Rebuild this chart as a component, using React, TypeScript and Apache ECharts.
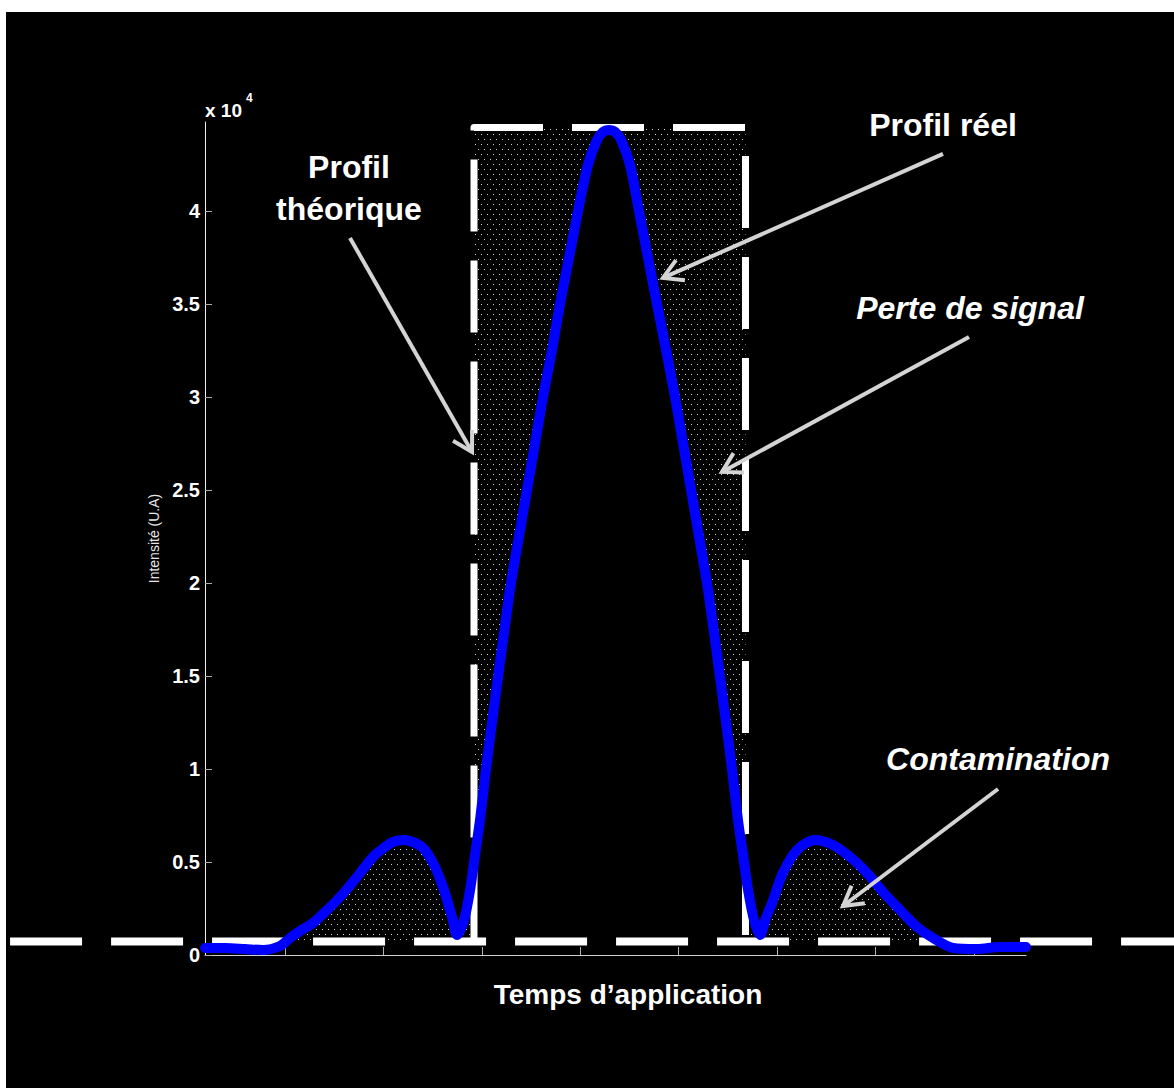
import { useEffect, useRef } from 'react';
import * as echarts from 'echarts';

// ---- data (x in tick units, y in raw intensity) ----
const curveX = [-0.813, -0.61, -0.406, -0.224, -0.051, 0.051, 0.152, 0.284, 0.427, 0.559, 0.731, 0.894, 1.016, 1.097, 1.199, 1.3, 1.402, 1.504, 1.605, 1.697, 1.747, 1.819, 1.88, 1.93, 1.981, 2.042, 2.133, 2.215, 2.296, 2.377, 2.459, 2.54, 2.621, 2.713, 2.794, 2.885, 2.977, 3.078, 3.17, 3.231, 3.292, 3.353, 3.414, 3.505, 3.596, 3.688, 3.779, 3.871, 3.962, 4.044, 4.125, 4.206, 4.287, 4.369, 4.45, 4.541, 4.602, 4.653, 4.704, 4.765, 4.826, 4.887, 4.948, 5.059, 5.202, 5.385, 5.567, 5.74, 5.913, 6.075, 6.248, 6.421, 6.583, 6.787, 7.03, 7.264, 7.528];
const curveY = [376, 376, 323, 269, 484, 914, 1290, 1720, 2419, 3118, 4194, 5269, 5806, 6075, 6183, 6075, 5753, 4946, 3656, 2043, 1075, 1882, 3495, 5376, 7258, 10000, 13710, 16935, 20000, 22500, 25000, 27500, 30000, 32527, 35000, 37473, 40000, 42473, 43817, 44247, 44355, 44247, 43817, 42473, 40000, 37473, 35000, 32527, 30000, 27500, 25000, 22500, 20000, 16935, 13710, 10000, 7258, 5376, 3495, 1882, 1075, 1989, 2796, 4409, 5645, 6183, 5914, 5269, 4409, 3387, 2419, 1505, 914, 376, 323, 430, 430];

const baselineValue = 730;
const baselineX = [-2.834, 9.032];
const rectLeft = 1.92;
const rectRight = 4.678;
const rectTop = 44490;

const xMin = -0.813;
const xMax = 7.528;
const yMax = 44780;
const xTicks = [0, 1, 2, 3, 4, 5, 6, 7];
const yTicks = [0, 5000, 10000, 15000, 20000, 25000, 30000, 35000, 40000];

// arrows: [x1, y1, x2(tip), y2(tip)]
const arrows = [
  [0.66, 38548, 1.9, 27043],
  [6.685, 43065, 3.84, 36398],
  [6.949, 33226, 4.44, 25968],
  [7.244, 8925, 5.669, 2634],
];

const FONT = '"Liberation Sans", Arial, sans-serif';

function interp(x: number): number {
  for (let i = 0; i < curveX.length - 1; i++) {
    if (x >= curveX[i] && x <= curveX[i + 1]) {
      const t = (x - curveX[i]) / (curveX[i + 1] - curveX[i]);
      return curveY[i] + t * (curveY[i + 1] - curveY[i]);
    }
  }
  return curveY[curveY.length - 1];
}

function buildRegions(): number[][][] {
  const b = baselineValue;
  const left: number[][] = [];
  for (let i = 0; i < curveX.length; i++) {
    if (curveX[i] < rectLeft) left.push([curveX[i], Math.max(curveY[i], b)]);
  }
  left.push([rectLeft, Math.max(interp(rectLeft), b)]);
  left.push([rectLeft, b]);
  left.push([curveX[0], b]);

  const right: number[][] = [[rectRight, b], [rectRight, Math.max(interp(rectRight), b)]];
  for (let i = 0; i < curveX.length; i++) {
    if (curveX[i] > rectRight) right.push([curveX[i], Math.max(curveY[i], b)]);
  }
  right.push([curveX[curveX.length - 1], b]);

  const mid: number[][] = [[rectLeft, rectTop], [rectRight, rectTop], [rectRight, interp(rectRight)]];
  for (let i = curveX.length - 1; i >= 0; i--) {
    if (curveX[i] > rectLeft && curveX[i] < rectRight) mid.push([curveX[i], curveY[i]]);
  }
  mid.push([rectLeft, interp(rectLeft)]);
  return [left, mid, right];
}

export default function App() {
  const ref = useRef<HTMLDivElement>(null);

  useEffect(() => {
    if (!ref.current) return;
    const chart = echarts.init(ref.current, undefined, { renderer: 'svg' });

    const tile = document.createElement('canvas');
    tile.width = 6;
    tile.height = 10;
    const ctx = tile.getContext('2d');
    if (ctx) {
      ctx.fillStyle = '#000';
      ctx.fillRect(0, 0, 6, 10);
      ctx.fillStyle = '#d0d0d0';
      ctx.fillRect(1, 2, 1, 1);
      ctx.fillRect(4, 7, 1, 1);
    }
    const pattern: any = { image: tile, repeat: 'repeat', imageWidth: 6, imageHeight: 10 };
    const regions = buildRegions();

    const option: any = {
      animation: false,
      backgroundColor: '#000',
      grid: { left: 199, top: 110, right: 148, bottom: 133, containLabel: false, outerBoundsMode: 'none' },
      xAxis: {
        type: 'value',
        min: xMin,
        max: xMax,
        axisLine: { show: true, onZero: false, lineStyle: { color: '#cfcfcf', width: 1 } },
        axisTick: { show: true, inside: true, length: 8, customValues: xTicks, lineStyle: { color: '#b0b0b0', width: 1 } },
        axisLabel: { show: false },
        splitLine: { show: false },
      },
      yAxis: {
        type: 'value',
        min: 0,
        max: yMax,
        name: 'Intensité (U.A)',
        nameLocation: 'middle',
        nameRotate: 90,
        nameGap: 41,
        nameTextStyle: { color: '#e6e6e6', fontSize: 14, fontFamily: FONT },
        axisLine: { show: true, onZero: false, lineStyle: { color: '#f0f0f0', width: 1 } },
        axisTick: { show: true, inside: true, length: 7, customValues: yTicks, lineStyle: { color: '#b0b0b0', width: 1 } },
        axisLabel: {
          show: true,
          customValues: yTicks,
          margin: 5,
          color: '#ffffff',
          fontSize: 20,
          fontWeight: 'bold',
          fontFamily: FONT,
          formatter: (v: number) => String(v / 10000),
        },
        splitLine: { show: false },
      },
      graphic: [
        { type: 'text', x: 199, y: 98, style: { text: 'x 10', fill: '#fff', font: `bold 19px ${FONT}`, align: 'left', verticalAlign: 'middle' } },
        { type: 'text', x: 240, y: 86, style: { text: '4', fill: '#fff', font: `bold 12px ${FONT}`, align: 'left', verticalAlign: 'middle' } },
        { type: 'text', x: 343, y: 176, style: { text: 'Profil\nthéorique', fill: '#fff', font: `bold 32px ${FONT}`, lineHeight: 42, align: 'center', verticalAlign: 'middle' } },
        { type: 'text', x: 937, y: 113, style: { text: 'Profil réel', fill: '#fff', font: `bold 32px ${FONT}`, align: 'center', verticalAlign: 'middle' } },
        { type: 'text', x: 964, y: 296, style: { text: 'Perte de signal', fill: '#fff', font: `italic bold 32px ${FONT}`, align: 'center', verticalAlign: 'middle' } },
        { type: 'text', x: 992, y: 747, style: { text: 'Contamination', fill: '#fff', font: `italic bold 32px ${FONT}`, align: 'center', verticalAlign: 'middle' } },
        { type: 'text', x: 622, y: 982, style: { text: 'Temps d’application', fill: '#fff', font: `bold 28px ${FONT}`, align: 'center', verticalAlign: 'middle' } },
      ],
      series: [
        {
          type: 'custom',
          name: 'fill',
          coordinateSystem: 'cartesian2d',
          data: [[0, 0]],
          silent: true,
          clip: false,
          z: 1,
          renderItem: (_params: any, api: any) => ({
            type: 'group',
            children: regions.map((poly) => ({
              type: 'polygon',
              shape: { points: poly.map((p) => api.coord(p)) },
              style: { fill: pattern, stroke: null, lineWidth: 0 },
            })),
          }),
        },
        {
          type: 'custom',
          name: 'baseline',
          coordinateSystem: 'cartesian2d',
          data: [[0, 0]],
          silent: true,
          clip: false,
          z: 2,
          renderItem: (_params: any, api: any) => {
            const a = api.coord([baselineX[0], baselineValue]);
            const b = api.coord([baselineX[1], baselineValue]);
            return {
              type: 'line',
              shape: { x1: a[0], y1: a[1], x2: b[0], y2: b[1] },
              style: { stroke: '#ffffff', lineWidth: 8, lineDash: [72, 29], lineDashOffset: 97, lineCap: 'butt', fill: null },
            };
          },
        },
        {
          type: 'line',
          name: 'theorique',
          data: [[rectLeft, baselineValue], [rectLeft, rectTop], [rectRight, rectTop], [rectRight, baselineValue]],
          symbol: 'none',
          clip: false,
          silent: true,
          z: 2,
          lineStyle: { color: '#ffffff', width: 7, type: [72, 29], dashOffset: 98, cap: 'butt', join: 'round' },
        },
        {
          type: 'line',
          name: 'reel',
          data: curveX.map((x, i) => [x, curveY[i]]),
          symbol: 'none',
          smooth: 0.3,
          silent: true,
          z: 3,
          lineStyle: { color: '#0000ff', width: 10, cap: 'round', join: 'round' },
        },
        {
          type: 'custom',
          name: 'arrows',
          coordinateSystem: 'cartesian2d',
          dimensions: ['x1', 'y1', 'x2', 'y2'],
          encode: { x: [0, 2], y: [1, 3] },
          data: arrows,
          silent: true,
          clip: false,
          z: 4,
          renderItem: (_params: any, api: any) => {
            const p1 = api.coord([api.value(0), api.value(1)]);
            const p2 = api.coord([api.value(2), api.value(3)]);
            const dx = p1[0] - p2[0];
            const dy = p1[1] - p2[1];
            const len = Math.hypot(dx, dy) || 1;
            const ux = dx / len;
            const uy = dy / len;
            const L = 22;
            const a = Math.PI / 6;
            const arm = (ang: number) => [
              p2[0] + L * (ux * Math.cos(ang) - uy * Math.sin(ang)),
              p2[1] + L * (ux * Math.sin(ang) + uy * Math.cos(ang)),
            ];
            return {
              type: 'group',
              children: [
                { type: 'line', shape: { x1: p1[0], y1: p1[1], x2: p2[0], y2: p2[1] }, style: { stroke: '#d4d4d4', lineWidth: 4 } },
                { type: 'polyline', shape: { points: [arm(a), p2, arm(-a)] }, style: { stroke: '#d4d4d4', lineWidth: 4, fill: null, lineJoin: 'miter' } },
              ],
            };
          },
        },
      ],
    };

    chart.setOption(option);
    return () => chart.dispose();
  }, []);

  return (
    <div style={{ position: 'absolute', left: 6, top: 12, width: 1168, height: 1076, background: '#000' }}>
      <div ref={ref} style={{ width: 1168, height: 1076 }} />
    </div>
  );
}
